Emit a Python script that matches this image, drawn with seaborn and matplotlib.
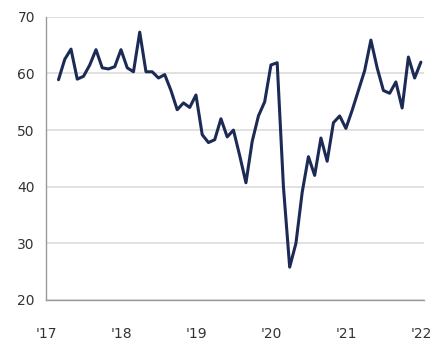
import pandas as pd
import seaborn as sns
import matplotlib.pyplot as plt

# monthly index, months counted from Jan 2017 (Mar 2017 .. Jan 2022)
months = list(range(2, 61))
values = [
    58.9, 62.5, 64.3, 59.0, 59.5, 61.5, 64.2, 61.0, 60.8, 61.2,   # Mar17-Dec17
    64.2, 61.0, 60.3, 67.3, 60.3, 60.3, 59.2, 59.8, 57.0, 53.6,   # Jan18-Oct18
    54.8, 54.0, 56.2, 49.2, 47.8, 48.3, 52.0, 48.8, 50.0, 45.5,   # Nov18-Aug19
    40.7, 48.0, 52.5, 55.0, 61.5, 61.9, 40.0, 25.8, 30.0, 39.0,   # Sep19-Jun20
    45.3, 42.0, 48.6, 44.5, 51.3, 52.5, 50.3, 53.5, 57.0, 60.5,   # Jul20-Apr21
    65.9, 61.0, 57.0, 56.5, 58.5, 53.9, 62.9, 59.2, 62.0,         # May21-Jan22
]
year_ticks = [0, 12, 24, 36, 48, 60]
year_labels = ["'17", "'18", "'19", "'20", "'21", "'22"]
y_ticks = [20, 30, 40, 50, 60, 70]

df = pd.DataFrame({"month": months, "value": values})

sns.set_style("white")
plt.rcParams['font.family'] = ['Liberation Sans Narrow', 'DejaVu Sans']

fig = plt.figure(figsize=(4.32, 3.44), dpi=100)
ax = fig.add_axes([0.1065, 0.128, 0.875, 0.823])

sns.lineplot(data=df, x="month", y="value", ax=ax,
             color="#1c2b55", linewidth=2.2, solid_joinstyle="round")

ax.set_xlim(0, 60.5)
ax.set_ylim(20, 70)
ax.set_xticks(year_ticks)
ax.set_xticklabels(year_labels)
ax.set_yticks(y_ticks)
ax.set_xlabel("")
ax.set_ylabel("")

# horizontal grid only
ax.yaxis.grid(True, color="#dcdcdc", linewidth=1.2)
ax.xaxis.grid(False)
ax.set_axisbelow(True)

for side in ["top", "right"]:
    ax.spines[side].set_visible(False)
for side in ["left", "bottom"]:
    ax.spines[side].set_color("#9a9a9a")
    ax.spines[side].set_linewidth(1.0)

ax.tick_params(axis="y", length=3, width=0.8, color="#9a9a9a",
               labelsize=10, labelcolor="#333333", pad=5)
ax.tick_params(axis="x", direction="inout", length=5, width=0.8,
               color="#9a9a9a", labelsize=10, labelcolor="#333333", pad=17)

fig.savefig("out.png", dpi=100)
